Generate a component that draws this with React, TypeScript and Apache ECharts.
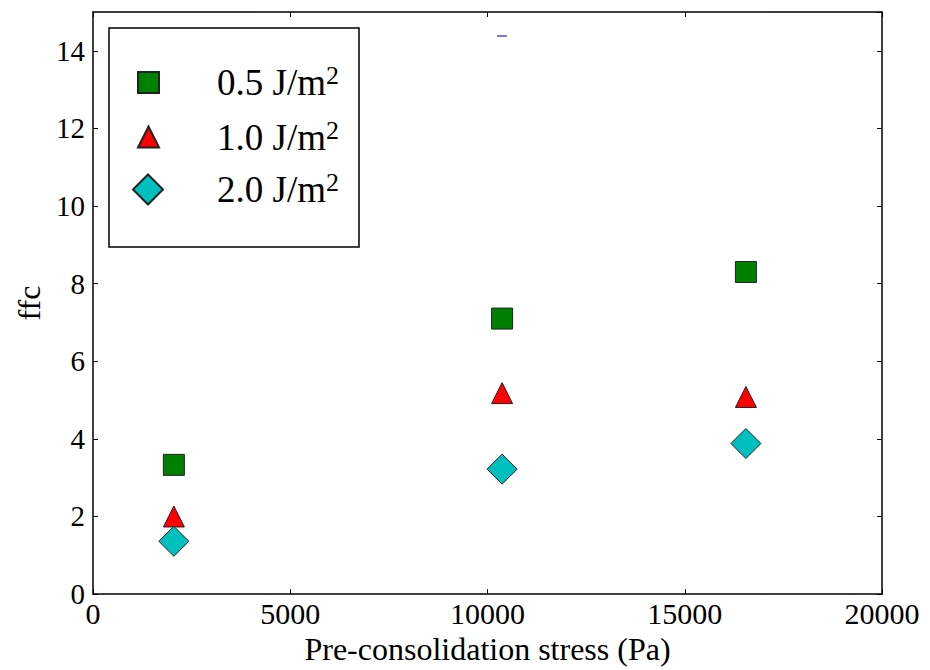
import React, { useEffect, useRef } from "react";
import * as echarts from "echarts";

// Data
const stressPa = [2050, 10370, 16550];
const ffc05 = [3.33, 7.1, 8.3];
const ffc10 = [2.0, 5.18, 5.08];
const ffc20 = [1.36, 3.22, 3.88];
const seriesNames = ["0.5 J/m²", "1.0 J/m²", "2.0 J/m²"];
const legendMain = ["0.5 J/m", "1.0 J/m", "2.0 J/m"];
const legendSup = ["2", "2", "2"];
const xAxisTitle = "Pre-consolidation stress (Pa)";
const yAxisTitle = "ffc";

const FONT = "'Liberation Serif', 'DejaVu Serif', serif";

function pairs(xs: number[], ys: number[]) {
  return xs.map((x, i) => [x, ys[i]]);
}

export default function App() {
  const ref = useRef<HTMLDivElement>(null);

  useEffect(() => {
    if (!ref.current) return;
    const chart = echarts.init(ref.current, undefined, { renderer: "svg" });

    const edge = { borderColor: "#222", borderWidth: 1, opacity: 1 };
    const legendRich = (pad: number) => ({
      a: { fontFamily: FONT, fontSize: 37, lineHeight: 40, color: "#000", padding: [0, 0, 0, pad] },
      sup: { fontFamily: FONT, fontSize: 26, lineHeight: 25, color: "#000", verticalAlign: "top" },
    });
    const legendFormatter = (name: string) => {
      const i = seriesNames.indexOf(name);
      return `{a|${legendMain[i]}}{sup|${legendSup[i]}}`;
    };
    const mkLegend = (i: number, left: number, top: number, size: number, pad: number) => ({
      data: [seriesNames[i]],
      left,
      top,
      padding: 0,
      itemWidth: size,
      itemHeight: size,
      orient: "vertical",
      selectedMode: false,
      formatter: legendFormatter,
      textStyle: { rich: legendRich(pad) },
    });

    const baseAxisLine = { show: true, onZero: false, lineStyle: { color: "#000", width: 1.5 } };
    const tickInside = { show: true, inside: true, length: 5, lineStyle: { color: "#000", width: 1 } };
    const plain = (v: number) => String(v);

    chart.setOption({
      animation: false,
      backgroundColor: "#fff",
      grid: { left: 93, top: 12, right: 48, bottom: 73, containLabel: false },
      xAxis: [
        {
          type: "value",
          min: 0,
          max: 20000,
          interval: 5000,
          position: "bottom",
          axisLine: baseAxisLine,
          axisTick: tickInside,
          splitLine: { show: false },
          axisLabel: { fontFamily: FONT, fontSize: 30, color: "#000", margin: 4, formatter: plain },
          name: xAxisTitle,
          nameLocation: "middle",
          nameGap: 38,
          nameTextStyle: { fontFamily: FONT, fontSize: 32, color: "#000" },
        },
        {
          type: "value",
          min: 0,
          max: 20000,
          interval: 5000,
          position: "top",
          axisLine: baseAxisLine,
          axisTick: tickInside,
          splitLine: { show: false },
          axisLabel: { show: false },
        },
      ],
      yAxis: [
        {
          type: "value",
          min: 0,
          max: 15,
          interval: 2,
          position: "left",
          axisLine: baseAxisLine,
          axisTick: tickInside,
          splitLine: { show: false },
          axisLabel: { fontFamily: FONT, fontSize: 29, color: "#000", margin: 8, showMaxLabel: false, formatter: plain },
          name: yAxisTitle,
          nameLocation: "middle",
          nameGap: 47,
          nameRotate: 90,
          nameTextStyle: { fontFamily: FONT, fontSize: 32, color: "#000" },
        },
        {
          type: "value",
          min: 0,
          max: 15,
          interval: 2,
          position: "right",
          axisLine: baseAxisLine,
          axisTick: tickInside,
          splitLine: { show: false },
          axisLabel: { show: false },
        },
      ],
      legend: [
        mkLegend(0, 137, 62.5, 21, 53),
        mkLegend(1, 137, 117, 21, 53),
        mkLegend(2, 132, 169.5, 30, 49),
      ],
      graphic: [
        {
          type: "rect",
          shape: { x: 109, y: 28, width: 250, height: 219 },
          style: { fill: "none", stroke: "#000", lineWidth: 1.5 },
          z: 1,
        },
        {
          type: "line",
          shape: { x1: 497, y1: 36, x2: 507, y2: 36 },
          style: { stroke: "#7b7bd6", lineWidth: 2 },
        },
      ],
      series: [
        {
          name: seriesNames[0],
          type: "scatter",
          symbol: "rect",
          symbolSize: 21,
          itemStyle: { color: "#008000", ...edge },
          data: pairs(stressPa, ffc05),
        },
        {
          name: seriesNames[1],
          type: "scatter",
          symbol: "triangle",
          symbolSize: 21,
          itemStyle: { color: "#ff0000", ...edge },
          data: pairs(stressPa, ffc10),
        },
        {
          name: seriesNames[2],
          type: "scatter",
          symbol: "diamond",
          symbolSize: 30,
          itemStyle: { color: "#00bfbf", ...edge },
          data: pairs(stressPa, ffc20),
        },
      ],
    });

    return () => chart.dispose();
  }, []);

  return (
    <div
      ref={ref}
      style={{ position: "fixed", left: 0, top: 0, width: 930, height: 670, background: "#fff" }}
    />
  );
}
